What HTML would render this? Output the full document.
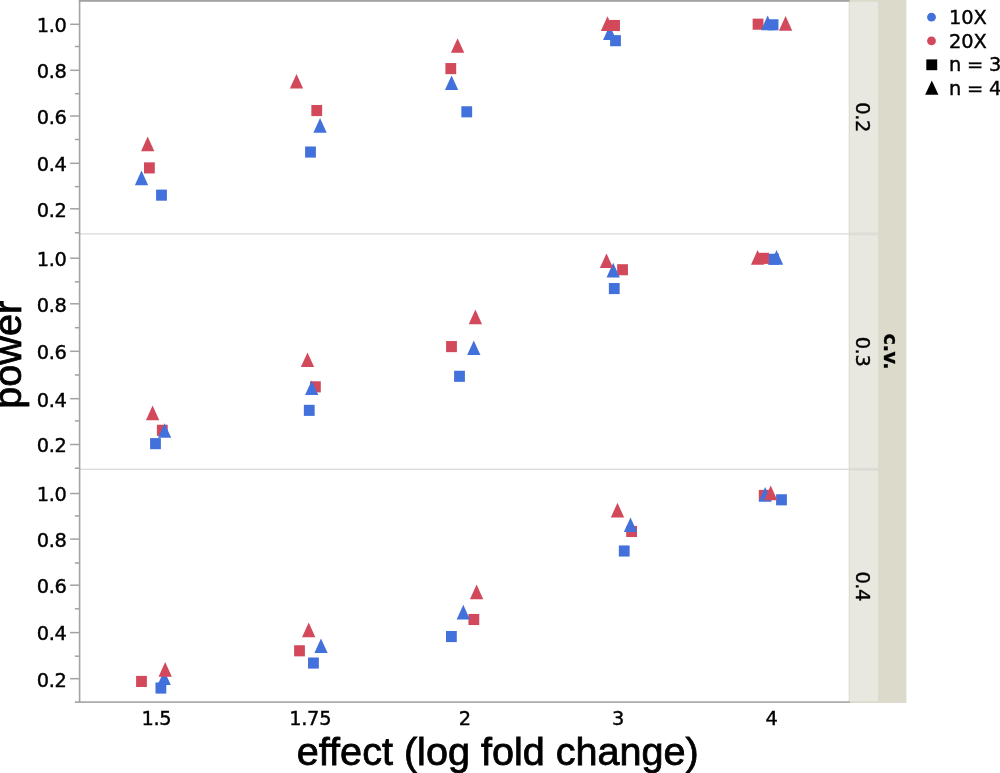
<!DOCTYPE html>
<html lang="en"><head><meta charset="utf-8"><title>power vs effect (log fold change)</title>
<style>
html,body{margin:0;padding:0;background:#fff;}
body{width:1000px;height:773px;overflow:hidden;position:relative;}
svg{position:absolute;left:0;top:0;display:block;}
.tk{font-family:"DejaVu Sans","Liberation Sans",sans-serif;font-size:19.4px;fill:#000;stroke:#000;stroke-width:0.4px;}
.tb{font-family:"DejaVu Sans","Liberation Sans",sans-serif;font-size:19.4px;font-weight:bold;fill:#000;stroke:#000;stroke-width:0.3px;}
.ttl{font-family:"Liberation Sans",Arial,Helvetica,sans-serif;font-size:39.6px;fill:#000;stroke:#000;stroke-width:0.8px;}
</style></head><body>
<svg width="1000" height="773" viewBox="0 0 1000 773">
<rect x="0" y="0" width="1000" height="773" fill="#fff"/>
<rect x="848.8" y="0" width="29.10" height="702.90" fill="#e8e8e0"/>
<rect x="848.8" y="0" width="29.10" height="1.7" fill="#dcdacb"/>
<rect x="848.8" y="701.20" width="29.10" height="1.7" fill="#dcdacb"/>
<rect x="848.8" y="0" width="1" height="702.90" fill="#dcdbcd"/>
<rect x="848.8" y="232.50" width="29.10" height="2.8" fill="#dddcd0"/>
<rect x="848.8" y="467.90" width="29.10" height="2.8" fill="#dddcd0"/>
<rect x="877.9" y="0" width="28.50" height="702.90" fill="#dcdacb"/>
<rect x="79.6" y="233.20" width="798.30" height="1.4" fill="#dcdcdc"/>
<rect x="79.6" y="468.60" width="798.30" height="1.4" fill="#dcdcdc"/>
<rect x="78.80" y="0" width="770.80" height="1.8" fill="#a3a3a3"/>
<rect x="78.80" y="0" width="1.6" height="702.90" fill="#a3a3a3"/>
<rect x="74.9" y="701.30" width="774.90" height="1.6" fill="#a3a3a3"/>
<rect x="70.1" y="23.55" width="9.50" height="1.5" fill="#a3a3a3"/>
<text class="tk" x="66.4" y="32.10" text-anchor="end" style="letter-spacing:-0.40px">1.0</text>
<rect x="74.9" y="45.75" width="4.70" height="1.5" fill="#a3a3a3"/>
<rect x="70.1" y="69.55" width="9.50" height="1.5" fill="#a3a3a3"/>
<text class="tk" x="66.4" y="78.10" text-anchor="end" style="letter-spacing:-0.40px">0.8</text>
<rect x="74.9" y="92.95" width="4.70" height="1.5" fill="#a3a3a3"/>
<rect x="70.1" y="115.25" width="9.50" height="1.5" fill="#a3a3a3"/>
<text class="tk" x="66.4" y="123.80" text-anchor="end" style="letter-spacing:-0.40px">0.6</text>
<rect x="74.9" y="138.75" width="4.70" height="1.5" fill="#a3a3a3"/>
<rect x="70.1" y="162.55" width="9.50" height="1.5" fill="#a3a3a3"/>
<text class="tk" x="66.4" y="171.10" text-anchor="end" style="letter-spacing:-0.40px">0.4</text>
<rect x="74.9" y="185.85" width="4.70" height="1.5" fill="#a3a3a3"/>
<rect x="70.1" y="208.05" width="9.50" height="1.5" fill="#a3a3a3"/>
<text class="tk" x="66.4" y="216.60" text-anchor="end" style="letter-spacing:-0.40px">0.2</text>
<rect x="74.9" y="232.05" width="4.70" height="1.5" fill="#a3a3a3"/>
<rect x="70.1" y="257.45" width="9.50" height="1.5" fill="#a3a3a3"/>
<text class="tk" x="66.4" y="266.00" text-anchor="end" style="letter-spacing:-0.40px">1.0</text>
<rect x="74.9" y="281.05" width="4.70" height="1.5" fill="#a3a3a3"/>
<rect x="70.1" y="303.05" width="9.50" height="1.5" fill="#a3a3a3"/>
<text class="tk" x="66.4" y="311.60" text-anchor="end" style="letter-spacing:-0.40px">0.8</text>
<rect x="74.9" y="326.95" width="4.70" height="1.5" fill="#a3a3a3"/>
<rect x="70.1" y="350.55" width="9.50" height="1.5" fill="#a3a3a3"/>
<text class="tk" x="66.4" y="359.10" text-anchor="end" style="letter-spacing:-0.40px">0.6</text>
<rect x="74.9" y="374.25" width="4.70" height="1.5" fill="#a3a3a3"/>
<rect x="70.1" y="397.95" width="9.50" height="1.5" fill="#a3a3a3"/>
<text class="tk" x="66.4" y="406.50" text-anchor="end" style="letter-spacing:-0.40px">0.4</text>
<rect x="74.9" y="420.15" width="4.70" height="1.5" fill="#a3a3a3"/>
<rect x="70.1" y="443.75" width="9.50" height="1.5" fill="#a3a3a3"/>
<text class="tk" x="66.4" y="452.30" text-anchor="end" style="letter-spacing:-0.40px">0.2</text>
<rect x="74.9" y="467.45" width="4.70" height="1.5" fill="#a3a3a3"/>
<rect x="70.1" y="492.75" width="9.50" height="1.5" fill="#a3a3a3"/>
<text class="tk" x="66.4" y="501.30" text-anchor="end" style="letter-spacing:-0.40px">1.0</text>
<rect x="74.9" y="515.15" width="4.70" height="1.5" fill="#a3a3a3"/>
<rect x="70.1" y="538.35" width="9.50" height="1.5" fill="#a3a3a3"/>
<text class="tk" x="66.4" y="546.90" text-anchor="end" style="letter-spacing:-0.40px">0.8</text>
<rect x="74.9" y="562.25" width="4.70" height="1.5" fill="#a3a3a3"/>
<rect x="70.1" y="584.45" width="9.50" height="1.5" fill="#a3a3a3"/>
<text class="tk" x="66.4" y="593.00" text-anchor="end" style="letter-spacing:-0.40px">0.6</text>
<rect x="74.9" y="608.05" width="4.70" height="1.5" fill="#a3a3a3"/>
<rect x="70.1" y="631.85" width="9.50" height="1.5" fill="#a3a3a3"/>
<text class="tk" x="66.4" y="640.40" text-anchor="end" style="letter-spacing:-0.40px">0.4</text>
<rect x="74.9" y="655.45" width="4.70" height="1.5" fill="#a3a3a3"/>
<rect x="70.1" y="677.95" width="9.50" height="1.5" fill="#a3a3a3"/>
<text class="tk" x="66.4" y="686.50" text-anchor="end" style="letter-spacing:-0.40px">0.2</text>
<text class="tk" x="156.3" y="724.9" text-anchor="middle" style="letter-spacing:-0.40px">1.5</text>
<text class="tk" x="310.2" y="724.9" text-anchor="middle" style="letter-spacing:-0.27px">1.75</text>
<text class="tk" x="464.8" y="724.9" text-anchor="middle">2</text>
<text class="tk" x="618.2" y="724.9" text-anchor="middle">3</text>
<text class="tk" x="771.7" y="724.9" text-anchor="middle">4</text>
<rect x="156.10" y="189.60" width="10.8" height="11.100000000000001" fill="#4371dc"/>
<rect x="144.00" y="162.35" width="10.8" height="11.100000000000001" fill="#d2495b"/>
<polygon points="141.50,170.60 148.15,185.20 134.85,185.20" fill="#4371dc"/>
<polygon points="147.70,136.60 154.35,151.20 141.05,151.20" fill="#d2495b"/>
<rect x="305.10" y="146.50" width="10.8" height="11.100000000000001" fill="#4371dc"/>
<rect x="311.35" y="105.00" width="10.8" height="11.100000000000001" fill="#d2495b"/>
<polygon points="320.05,118.10 326.70,132.70 313.40,132.70" fill="#4371dc"/>
<polygon points="296.50,73.90 303.15,88.50 289.85,88.50" fill="#d2495b"/>
<rect x="461.35" y="106.25" width="10.8" height="11.100000000000001" fill="#4371dc"/>
<rect x="445.40" y="63.05" width="10.8" height="11.100000000000001" fill="#d2495b"/>
<polygon points="451.60,75.40 458.25,90.00 444.95,90.00" fill="#4371dc"/>
<polygon points="457.60,38.20 464.25,52.80 450.95,52.80" fill="#d2495b"/>
<rect x="610.10" y="35.15" width="10.8" height="11.100000000000001" fill="#4371dc"/>
<rect x="609.15" y="19.95" width="10.8" height="11.100000000000001" fill="#d2495b"/>
<polygon points="609.70,25.30 616.35,39.90 603.05,39.90" fill="#4371dc"/>
<polygon points="607.50,16.30 614.15,30.90 600.85,30.90" fill="#d2495b"/>
<rect x="767.65" y="19.25" width="10.8" height="11.100000000000001" fill="#4371dc"/>
<rect x="752.65" y="18.65" width="10.8" height="11.100000000000001" fill="#d2495b"/>
<polygon points="767.70,15.60 774.35,30.20 761.05,30.20" fill="#4371dc"/>
<polygon points="785.60,16.10 792.25,30.70 778.95,30.70" fill="#d2495b"/>
<rect x="150.10" y="438.10" width="10.8" height="11.100000000000001" fill="#4371dc"/>
<rect x="156.90" y="424.75" width="10.8" height="11.100000000000001" fill="#d2495b"/>
<polygon points="164.60,423.20 171.25,437.80 157.95,437.80" fill="#4371dc"/>
<polygon points="152.60,405.60 159.25,420.20 145.95,420.20" fill="#d2495b"/>
<rect x="303.85" y="404.80" width="10.8" height="11.100000000000001" fill="#4371dc"/>
<rect x="310.00" y="381.30" width="10.8" height="11.100000000000001" fill="#d2495b"/>
<polygon points="311.70,380.40 318.35,395.00 305.05,395.00" fill="#4371dc"/>
<polygon points="307.50,352.40 314.15,367.00 300.85,367.00" fill="#d2495b"/>
<rect x="454.10" y="370.75" width="10.8" height="11.100000000000001" fill="#4371dc"/>
<rect x="446.10" y="341.05" width="10.8" height="11.100000000000001" fill="#d2495b"/>
<polygon points="473.80,340.40 480.45,355.00 467.15,355.00" fill="#4371dc"/>
<polygon points="475.40,309.60 482.05,324.20 468.75,324.20" fill="#d2495b"/>
<rect x="608.85" y="283.00" width="10.8" height="11.100000000000001" fill="#4371dc"/>
<rect x="617.15" y="264.20" width="10.8" height="11.100000000000001" fill="#d2495b"/>
<polygon points="613.20,262.80 619.85,277.40 606.55,277.40" fill="#4371dc"/>
<polygon points="606.50,253.40 613.15,268.00 599.85,268.00" fill="#d2495b"/>
<rect x="768.20" y="253.75" width="10.8" height="11.100000000000001" fill="#4371dc"/>
<rect x="758.15" y="252.80" width="10.8" height="11.100000000000001" fill="#d2495b"/>
<polygon points="776.50,250.10 783.15,264.70 769.85,264.70" fill="#4371dc"/>
<polygon points="757.60,250.10 764.25,264.70 750.95,264.70" fill="#d2495b"/>
<rect x="155.50" y="682.50" width="10.8" height="11.100000000000001" fill="#4371dc"/>
<rect x="136.10" y="675.90" width="10.8" height="11.100000000000001" fill="#d2495b"/>
<polygon points="164.20,670.40 170.85,685.00 157.55,685.00" fill="#4371dc"/>
<polygon points="165.20,662.10 171.85,676.70 158.55,676.70" fill="#d2495b"/>
<rect x="308.05" y="657.50" width="10.8" height="11.100000000000001" fill="#4371dc"/>
<rect x="294.10" y="645.25" width="10.8" height="11.100000000000001" fill="#d2495b"/>
<polygon points="321.00,638.40 327.65,653.00 314.35,653.00" fill="#4371dc"/>
<polygon points="308.70,622.60 315.35,637.20 302.05,637.20" fill="#d2495b"/>
<rect x="446.00" y="631.00" width="10.8" height="11.100000000000001" fill="#4371dc"/>
<rect x="468.45" y="613.95" width="10.8" height="11.100000000000001" fill="#d2495b"/>
<polygon points="463.30,604.80 469.95,619.40 456.65,619.40" fill="#4371dc"/>
<polygon points="476.60,584.60 483.25,599.20 469.95,599.20" fill="#d2495b"/>
<rect x="618.85" y="545.45" width="10.8" height="11.100000000000001" fill="#4371dc"/>
<rect x="626.20" y="525.95" width="10.8" height="11.100000000000001" fill="#d2495b"/>
<polygon points="630.50,517.40 637.15,532.00 623.85,532.00" fill="#4371dc"/>
<polygon points="617.50,502.80 624.15,517.40 610.85,517.40" fill="#d2495b"/>
<rect x="776.10" y="494.25" width="10.8" height="11.100000000000001" fill="#4371dc"/>
<rect x="758.80" y="489.90" width="10.8" height="11.100000000000001" fill="#d2495b"/>
<polygon points="765.20,487.10 771.85,501.70 758.55,501.70" fill="#4371dc"/>
<polygon points="770.70,485.60 777.35,500.20 764.05,500.20" fill="#d2495b"/>
<text class="tk" transform="translate(856.2 117.1) rotate(90)" text-anchor="middle" style="letter-spacing:-0.40px">0.2</text>
<text class="tk" transform="translate(856.2 351.5) rotate(90)" text-anchor="middle" style="letter-spacing:-0.40px">0.3</text>
<text class="tk" transform="translate(856.2 586.2) rotate(90)" text-anchor="middle" style="letter-spacing:-0.40px">0.4</text>
<text class="tb" transform="translate(883.6 351.4) rotate(90)" text-anchor="middle" style="letter-spacing:-0.4px">c.v.</text>
<circle cx="931.5" cy="17.2" r="4.4" fill="#4371dc"/>
<circle cx="931.5" cy="40.9" r="4.4" fill="#d2495b"/>
<rect x="926.3" y="59.4" width="10.9" height="10.8" fill="#000"/>
<polygon points="931.8,80.6 938.45,94.85 925.15,94.85" fill="#000"/>
<text class="tk" x="948.9" y="24.1">10X</text>
<text class="tk" x="948.9" y="47.8">20X</text>
<text class="tk" x="948.9" y="71.25" style="letter-spacing:-0.17px">n = 3</text>
<text class="tk" x="948.9" y="95.4" style="letter-spacing:-0.17px">n = 4</text>
<text class="ttl" x="497.8" y="765.1" text-anchor="middle">effect (log fold change)</text>
<text class="ttl" transform="translate(20.9 354.8) rotate(-90)" text-anchor="middle">power</text>
</svg>
</body></html>
